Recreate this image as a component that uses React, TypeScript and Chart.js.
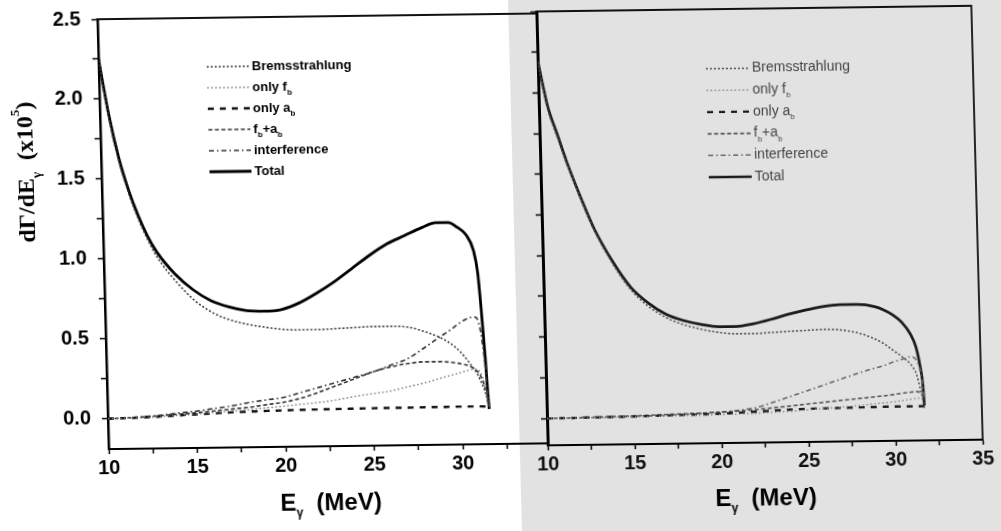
import React, { useEffect, useRef } from 'react';
import { Chart, registerables } from 'chart.js';
Chart.register(...registerables);

// ---------- data ----------
const energyLeft = [10, 10.5, 11, 11.5, 12, 12.5, 13, 14, 15, 16, 17, 18, 19, 20, 21, 22, 23, 24, 25, 26, 27, 28, 28.8, 29.5, 30, 30.5, 30.9, 31.1, 31.25, 31.4, 31.5, 31.55];
const totalLeft = [2.25, 1.9, 1.63, 1.43, 1.27, 1.14, 1.04, 0.9, 0.8, 0.73, 0.69, 0.665, 0.66, 0.67, 0.71, 0.77, 0.84, 0.92, 1.0, 1.07, 1.12, 1.17, 1.2, 1.2, 1.17, 1.12, 1.02, 0.88, 0.64, 0.35, 0.12, 0.03];
const bremsLeft = [2.24, 1.88, 1.61, 1.41, 1.25, 1.12, 1.01, 0.86, 0.74, 0.66, 0.61, 0.58, 0.56, 0.545, 0.54, 0.54, 0.545, 0.55, 0.555, 0.555, 0.55, 0.52, 0.485, 0.44, 0.39, 0.32, 0.255, 0.21, 0.17, 0.12, 0.07, 0.04];
const fOnlyLeft = [0, 0, 0.002, 0.003, 0.005, 0.007, 0.01, 0.015, 0.022, 0.03, 0.037, 0.045, 0.055, 0.065, 0.075, 0.085, 0.1, 0.12, 0.135, 0.15, 0.175, 0.2, 0.225, 0.245, 0.26, 0.275, 0.28, 0.26, 0.22, 0.15, 0.08, 0.04];
const aOnlyLeft = [0, 0.001, 0.002, 0.003, 0.005, 0.007, 0.01, 0.015, 0.02, 0.025, 0.03, 0.033, 0.036, 0.038, 0.04, 0.041, 0.042, 0.043, 0.044, 0.045, 0.045, 0.046, 0.046, 0.047, 0.047, 0.047, 0.047, 0.047, 0.046, 0.045, 0.044, 0.04];
const fPlusALeft = [0, 0.001, 0.003, 0.005, 0.008, 0.011, 0.015, 0.022, 0.03, 0.04, 0.05, 0.06, 0.075, 0.09, 0.115, 0.15, 0.19, 0.23, 0.27, 0.3, 0.32, 0.33, 0.33, 0.325, 0.315, 0.3, 0.27, 0.24, 0.2, 0.14, 0.08, 0.04];
const interfLeft = [0, 0.002, 0.004, 0.006, 0.01, 0.013, 0.017, 0.03, 0.04, 0.055, 0.07, 0.09, 0.105, 0.12, 0.15, 0.18, 0.21, 0.24, 0.27, 0.31, 0.35, 0.42, 0.48, 0.53, 0.57, 0.6, 0.605, 0.56, 0.45, 0.28, 0.12, 0.05];

const energyRight = [10, 10.5, 11, 11.5, 12, 12.5, 13, 14, 15, 16, 17, 18, 19, 20, 21, 22, 23, 24, 25, 26, 27, 28, 29, 29.5, 30, 30.5, 31, 31.3, 31.5, 31.65, 31.7];
const totalRight = [2.2, 1.92, 1.75, 1.58, 1.43, 1.29, 1.16, 0.96, 0.8, 0.7, 0.63, 0.59, 0.565, 0.55, 0.55, 0.565, 0.59, 0.62, 0.645, 0.665, 0.675, 0.675, 0.66, 0.64, 0.61, 0.565, 0.49, 0.41, 0.3, 0.17, 0.05];
const bremsRight = [2.19, 1.9, 1.73, 1.57, 1.42, 1.28, 1.15, 0.945, 0.785, 0.68, 0.61, 0.565, 0.535, 0.515, 0.505, 0.505, 0.51, 0.515, 0.52, 0.525, 0.52, 0.5, 0.46, 0.43, 0.39, 0.35, 0.3, 0.24, 0.15, 0.07, 0.03];
const fOnlyRight = [0, 0, 0, 0.001, 0.001, 0.002, 0.002, 0.003, 0.004, 0.005, 0.006, 0.008, 0.009, 0.01, 0.012, 0.015, 0.02, 0.025, 0.032, 0.04, 0.047, 0.055, 0.065, 0.07, 0.075, 0.082, 0.09, 0.095, 0.095, 0.09, 0.08];
const aOnlyRight = [0, 0, 0.001, 0.001, 0.002, 0.002, 0.003, 0.004, 0.005, 0.007, 0.009, 0.011, 0.013, 0.015, 0.02, 0.025, 0.03, 0.035, 0.038, 0.04, 0.042, 0.043, 0.044, 0.045, 0.045, 0.045, 0.045, 0.045, 0.045, 0.045, 0.045];
const fPlusARight = [0, 0, 0.001, 0.002, 0.003, 0.004, 0.005, 0.007, 0.009, 0.012, 0.015, 0.018, 0.021, 0.025, 0.03, 0.038, 0.047, 0.057, 0.068, 0.078, 0.088, 0.098, 0.108, 0.113, 0.12, 0.127, 0.133, 0.135, 0.13, 0.115, 0.1];
const interfRight = [0, 0, 0, 0.001, 0.001, 0.002, 0.002, 0.004, 0.006, 0.008, 0.011, 0.015, 0.02, 0.026, 0.035, 0.05, 0.08, 0.115, 0.15, 0.185, 0.22, 0.255, 0.285, 0.3, 0.32, 0.335, 0.35, 0.33, 0.27, 0.17, 0.1];

const xTicksLeft = [10, 12.5, 15, 17.5, 20, 22.5, 25, 27.5, 30, 32.5];
const xTicksRight = [10, 12.5, 15, 17.5, 20, 22.5, 25, 27.5, 30, 32.5, 35];
const yTicks = [0, 0.25, 0.5, 0.75, 1, 1.25, 1.5, 1.75, 2, 2.25, 2.5];
const xRangeLeft = [10, 34.8];
const xRangeRight = [10, 35];
const yRangeLeft = [-0.19, 2.5];
const yRangeRight = [-0.165, 2.5];

type Part = { t: string; sub?: boolean; sup?: boolean };
const seriesKeys = ['brems', 'fOnly', 'aOnly', 'fPlusA', 'interf', 'total'];
const legendLabels: Record<string, Part[]> = {
  brems: [{ t: 'Bremsstrahlung' }],
  fOnly: [{ t: 'only f' }, { t: 'b', sub: true }],
  aOnly: [{ t: 'only a' }, { t: 'b', sub: true }],
  fPlusA: [{ t: 'f' }, { t: 'b', sub: true }, { t: '+a' }, { t: 'b', sub: true }],
  interf: [{ t: 'interference' }],
  total: [{ t: 'Total' }],
};

type Style = { color: string; width: number; dash: number[] };
const stylesLeft: Record<string, Style> = {
  brems: { color: '#3a3a3a', width: 1.6, dash: [2, 2] },
  fOnly: { color: '#777', width: 1.4, dash: [1.5, 2.5] },
  aOnly: { color: '#111', width: 2.4, dash: [6, 6] },
  fPlusA: { color: '#333', width: 1.6, dash: [4, 2.5] },
  interf: { color: '#333', width: 1.6, dash: [5, 3, 1.5, 3] },
  total: { color: '#000', width: 2.8, dash: [] },
};
const stylesRight: Record<string, Style> = {
  brems: { color: '#505050', width: 1.6, dash: [2, 2] },
  fOnly: { color: '#888', width: 1.4, dash: [1.5, 2.5] },
  aOnly: { color: '#1a1a1a', width: 2.4, dash: [6, 6] },
  fPlusA: { color: '#555', width: 1.6, dash: [4, 2.5] },
  interf: { color: '#666', width: 1.6, dash: [5, 3, 1.5, 3] },
  total: { color: '#1a1a1a', width: 2.7, dash: [] },
};

const SANS = '"Liberation Sans", Arial, sans-serif';
const SERIF = '"Liberation Serif", "Times New Roman", serif';

type TextOpt = { size: number; weight: string; family: string; color: string; align: 'left' | 'center'; subScale?: number };
function drawRich(ctx: CanvasRenderingContext2D, parts: Part[], x: number, y: number, o: TextOpt) {
  const ss = o.subScale ?? 0.6;
  const fontFor = (p: Part) => `${o.weight} ${p.sub || p.sup ? Math.round(o.size * ss) : o.size}px ${o.family}`;
  const widths: number[] = [];
  let total = 0;
  for (const p of parts) {
    ctx.font = fontFor(p);
    const w = ctx.measureText(p.t).width;
    widths.push(w);
    total += w;
  }
  let cx = o.align === 'center' ? x - total / 2 : x;
  ctx.fillStyle = o.color;
  ctx.textBaseline = 'middle';
  ctx.textAlign = 'left';
  parts.forEach((p, i) => {
    ctx.font = fontFor(p);
    const dy = p.sub ? o.size * 0.42 : p.sup ? -o.size * 0.45 : 0;
    ctx.fillText(p.t, cx, y + dy);
    cx += widths[i];
  });
}

function drawLegend(ctx: CanvasRenderingContext2D, x0: number, x1: number, tx: number, y0: number, dy: number, styles: Record<string, Style>, t: TextOpt) {
  seriesKeys.forEach((k, i) => {
    const y = y0 + i * dy;
    const s = styles[k];
    ctx.save();
    ctx.strokeStyle = s.color;
    ctx.lineWidth = s.width;
    ctx.setLineDash(s.dash);
    ctx.beginPath();
    ctx.moveTo(x0, y);
    ctx.lineTo(x1, y);
    ctx.stroke();
    ctx.restore();
    drawRich(ctx, legendLabels[k], tx, y, t);
  });
}

function makeDatasets(grid: number[], series: Record<string, number[]>, styles: Record<string, Style>) {
  return seriesKeys.map((k) => ({
    label: k,
    data: grid.map((x, i) => ({ x, y: series[k][i] })),
    borderColor: styles[k].color,
    borderWidth: styles[k].width,
    borderDash: styles[k].dash,
    pointRadius: 0,
    fill: false,
    cubicInterpolationMode: 'monotone' as const,
  }));
}

const tickFont = { family: SANS, size: 20, weight: 'bold' as const };
const isMajorY = (v: number) => Math.abs(v * 2 - Math.round(v * 2)) < 1e-6;

function makeConfig(side: 'left' | 'right'): any {
  const left = side === 'left';
  const series = left
    ? { brems: bremsLeft, fOnly: fOnlyLeft, aOnly: aOnlyLeft, fPlusA: fPlusALeft, interf: interfLeft, total: totalLeft }
    : { brems: bremsRight, fOnly: fOnlyRight, aOnly: aOnlyRight, fPlusA: fPlusARight, interf: interfRight, total: totalRight };
  const styles = left ? stylesLeft : stylesRight;
  const xr = left ? xRangeLeft : xRangeRight;
  const xt = left ? xTicksLeft : xTicksRight;
  const yr = left ? yRangeLeft : yRangeRight;

  const deco = {
    id: 'deco-' + side,
    afterDraw(chart: any) {
      const { ctx, chartArea: a } = chart;
      ctx.save();
      ctx.strokeStyle = '#111';
      ctx.lineWidth = 1.8;
      ctx.beginPath();
      ctx.moveTo(a.left, a.top);
      ctx.lineTo(a.right, a.top);
      if (!left) ctx.lineTo(a.right, a.bottom);
      ctx.stroke();
      if (left) {
        drawLegend(ctx, 212, 254, 257, 63, 21, styles, { size: 13, weight: 'bold', family: SANS, color: '#000', align: 'left' });
        ctx.save();
        ctx.translate(30, 166);
        ctx.rotate(-Math.PI / 2);
        drawRich(ctx, [{ t: 'd\u0393/dE' }, { t: '\u03b3', sub: true }, { t: '  (x10' }, { t: '5', sup: true }, { t: ')' }], 0, 0,
          { size: 24, weight: 'bold', family: SERIF, color: '#000', align: 'center', subScale: 0.55 });
        ctx.restore();
        drawRich(ctx, [{ t: 'E' }, { t: '\u03b3', sub: true }, { t: '  (MeV)' }], 325, 501,
          { size: 24, weight: 'bold', family: SANS, color: '#000', align: 'center', subScale: 0.5 });
      } else {
        drawLegend(ctx, 186, 229, 232, 71.5, 21.7, styles, { size: 14, weight: 'normal', family: SANS, color: '#444', align: 'left' });
        drawRich(ctx, [{ t: 'E' }, { t: '\u03b3', sub: true }, { t: '  (MeV)' }], 235, 502,
          { size: 24, weight: 'bold', family: SANS, color: '#000', align: 'center', subScale: 0.5 });
      }
      ctx.restore();
    },
  };

  return {
    type: 'line',
    data: { datasets: makeDatasets(left ? energyLeft : energyRight, series, styles) },
    plugins: [deco],
    options: {
      responsive: false,
      animation: false,
      events: [],
      layout: { padding: left ? { top: 14, right: 17, bottom: 0, left: 0 } : { top: 12, right: 23, bottom: 0, left: 0 } },
      plugins: { legend: { display: false }, tooltip: { enabled: false }, title: { display: false } },
      scales: {
        x: {
          type: 'linear',
          min: xr[0],
          max: xr[1],
          afterBuildTicks: (s: any) => { s.ticks = xt.map((v) => ({ value: v })); },
          afterFit: (s: any) => {
            s.height = left ? 87 : 85;
            s.paddingLeft = 0;
            s.paddingRight = 0;
          },
          ticks: {
            autoSkip: false,
            maxRotation: 0,
            padding: 2,
            color: left ? '#000' : '#111',
            font: tickFont,
            callback: (v: number) => (Math.abs(v % 5) < 1e-6 ? String(v) : ''),
          },
          grid: { display: true, drawOnChartArea: false, drawTicks: true, tickLength: 5, tickWidth: 1.5, tickColor: '#000' },
          border: { display: true, color: '#000', width: 2 },
        },
        y: {
          type: 'linear',
          min: yr[0],
          max: yr[1],
          afterBuildTicks: (s: any) => { s.ticks = yTicks.map((v) => ({ value: v })); },
          afterFit: (s: any) => {
            s.width = left ? 104 : 18;
            s.paddingTop = 0;
            s.paddingBottom = 0;
          },
          ticks: {
            autoSkip: false,
            padding: 11,
            color: '#000',
            font: tickFont,
            callback: (v: number) => (left && isMajorY(v) ? v.toFixed(1) : ''),
          },
          grid: { display: true, drawOnChartArea: false, drawTicks: true, tickLength: 6, tickWidth: 1.5, tickColor: '#000' },
          border: { display: true, color: '#000', width: left ? 2.5 : 3 },
        },
      },
    },
  };
}

export default function App() {
  const leftRef = useRef<HTMLCanvasElement>(null);
  const rightRef = useRef<HTMLCanvasElement>(null);
  useEffect(() => {
    document.body.style.margin = '0';
    document.documentElement.style.overflow = 'hidden';
    const l = new Chart(leftRef.current as HTMLCanvasElement, makeConfig('left'));
    const r = new Chart(rightRef.current as HTMLCanvasElement, makeConfig('right'));
    return () => {
      l.destroy();
      r.destroy();
    };
  }, []);
  return (
    <div
      style={{
        position: 'fixed',
        left: 0,
        top: 0,
        width: 1001,
        height: 531,
        background: '#fff',
        transform: 'rotate(-0.75deg) skewX(0.75deg)',
        transformOrigin: '500px 265px',
      }}
    >
      <div style={{ position: 'absolute', left: 515, top: -40, width: 540, height: 620, background: '#e2e2e2' }} />
      <canvas ref={leftRef} width={560} height={531} style={{ position: 'absolute', left: 0, top: 0, width: 560, height: 531 }} />
      <canvas ref={rightRef} width={476} height={531} style={{ position: 'absolute', left: 525, top: 0, width: 476, height: 531 }} />
    </div>
  );
}
